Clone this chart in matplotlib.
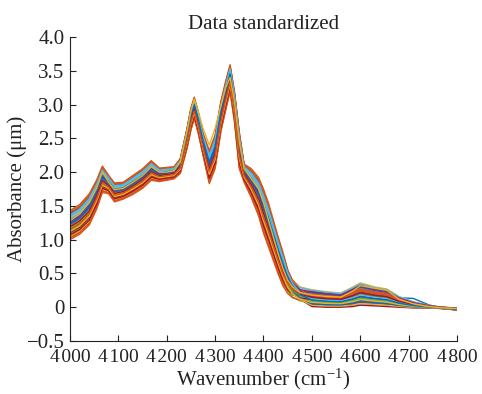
import numpy as np
import matplotlib
matplotlib.use("Agg")
import matplotlib.pyplot as plt

plt.rcParams['font.family'] = ['Liberation Serif', 'DejaVu Serif']
plt.rcParams['mathtext.fontset'] = 'custom'
plt.rcParams['mathtext.rm'] = 'Liberation Serif'
plt.rcParams['mathtext.it'] = 'Liberation Serif'

# wavenumber grid (cm-1) with the lower / upper edge of the band of spectra
wn = [4000, 4020, 4040, 4055, 4067, 4080, 4092, 4110, 4130, 4150, 4168, 4185,
      4200, 4215, 4228, 4242, 4250, 4257, 4265, 4275, 4288, 4300, 4312, 4322,
      4331, 4340, 4350, 4360, 4375, 4390, 4400, 4410, 4420, 4430, 4440, 4450,
      4460, 4475, 4500, 4530, 4560, 4585, 4600, 4630, 4655, 4680, 4710, 4740,
      4770, 4800]
low = [1.00, 1.08, 1.22, 1.45, 1.70, 1.68, 1.56, 1.60, 1.67, 1.76, 1.88, 1.86,
       1.88, 1.90, 1.98, 2.35, 2.62, 2.79, 2.58, 2.25, 1.83, 2.05, 2.60, 2.92,
       3.19, 2.75, 2.05, 1.85, 1.62, 1.35, 1.10, 0.90, 0.70, 0.50, 0.32, 0.18,
       0.10, 0.05, 0.01, 0.00, 0.00, 0.01, 0.03, 0.02, 0.01, 0.00, -0.01, -0.01,
       -0.02, -0.04]
high = [1.43, 1.52, 1.68, 1.88, 2.09, 1.95, 1.84, 1.85, 1.95, 2.05, 2.17, 2.06,
        2.07, 2.08, 2.20, 2.65, 2.95, 3.11, 2.90, 2.58, 2.32, 2.55, 3.05, 3.35,
        3.59, 3.20, 2.60, 2.12, 2.05, 1.92, 1.75, 1.55, 1.30, 1.05, 0.82, 0.60,
        0.45, 0.33, 0.26, 0.23, 0.21, 0.30, 0.36, 0.30, 0.27, 0.16, 0.08, 0.03,
        0.00, -0.01]

# where each sample sits inside the band (left part / right part of the spectrum)
w_left = [0.52, 0.18, 0.77, 0.35, 0.95, 0.61, 0.08, 0.44, 0.83, 0.27, 0.69, 0.13,
          0.56, 0.91, 0.38, 0.00, 0.73, 0.49, 0.21, 0.87, 0.64, 0.31, 1.00, 0.11,
          0.58, 0.42, 0.80, 0.24, 0.67, 0.05, 0.47, 0.89, 0.33, 0.71, 0.16, 0.54,
          0.93, 0.28, 0.62, 0.40, 0.85, 0.45, 0.66, 0.36]
w_right = [0.30, 0.62, 0.15, 0.84, 0.47, 0.05, 0.71, 0.26, 0.93, 0.40, 0.58, 0.19,
           0.77, 0.10, 0.52, 0.35, 1.00, 0.22, 0.66, 0.44, 0.00, 0.81, 0.37, 0.55,
           0.12, 0.69, 0.28, 0.90, 0.49, 0.74, 0.08, 0.60, 0.33, 0.96, 0.42, 0.17,
           0.64, 0.25, 0.86, 0.50, 0.45, 0.55, 0.38, 0.70]

# two odd spectra that stand out of the band
odd_orange = [1.28, 1.38, 1.55, 1.76, 2.00, 1.85, 1.74, 1.76, 1.85, 1.95, 2.08, 2.00,
              2.00, 2.02, 2.15, 2.60, 2.90, 3.08, 2.90, 2.65, 2.40, 2.65, 2.98, 3.25,
              3.40, 3.05, 2.45, 2.05, 1.90, 1.75, 1.55, 1.30, 1.05, 0.80, 0.58, 0.40,
              0.30, 0.22, 0.18, 0.16, 0.15, 0.24, 0.32, 0.28, 0.25, 0.12, 0.05, 0.01,
              -0.01, -0.02]
odd_blue = [1.20, 1.30, 1.48, 1.68, 1.92, 1.80, 1.70, 1.72, 1.80, 1.90, 2.02, 1.96,
            1.98, 2.00, 2.10, 2.50, 2.78, 2.95, 2.75, 2.42, 2.05, 2.28, 2.80, 3.12,
            3.35, 2.98, 2.35, 1.98, 1.85, 1.65, 1.45, 1.22, 1.00, 0.75, 0.55, 0.38,
            0.28, 0.20, 0.15, 0.13, 0.12, 0.20, 0.26, 0.24, 0.22, 0.14, 0.13, 0.04,
            -0.02, -0.04]

colors = ['#0072BD', '#D95319', '#EDB120', '#7E2F8E', '#77AC30', '#4DBEEE', '#A2142F']

wn = np.array(wn)
low = np.array(low)
high = np.array(high)
# blend from the left-part weights to the right-part weights past the big drop
mix = np.clip((wn - 4440) / 60.0, 0, 1)

fig = plt.figure(figsize=(4.82, 3.94), dpi=100)
ax = fig.add_axes([0.1452, 0.1345, 0.8028, 0.7715])

ax.plot(wn, odd_blue, color=colors[0], lw=1.0)
for i in range(len(w_left)):
    w = (1 - mix) * w_left[i] + mix * w_right[i]
    ax.plot(wn, low + w * (high - low), color=colors[i % 7], lw=1.0)
ax.plot(wn, odd_orange, color=colors[2], lw=1.0)

ax.set_xlim(4000, 4800)
ax.set_ylim(-0.5, 4.0)
xt = [4000, 4100, 4200, 4300, 4400, 4500, 4600, 4700, 4800]
ax.set_xticks(xt)
ax.set_xticklabels(['4\u200a' + str(v)[1:] for v in xt])
yt = [-0.5, 0, 0.5, 1.0, 1.5, 2.0, 2.5, 3.0, 3.5, 4.0]
ax.set_yticks(yt)
ax.set_yticklabels(['\u22120.5', '0', '0.5', '1.0', '1.5', '2.0', '2.5', '3.0', '3.5', '4.0'])
ax.tick_params(direction='in', length=4, colors='#222222')
ax.tick_params(axis='x', labelsize=14, pad=6)
ax.tick_params(axis='y', labelsize=15, pad=4)
for s in ['top', 'right']:
    ax.spines[s].set_visible(False)
for s in ['left', 'bottom']:
    ax.spines[s].set_color('#222222')

ax.set_xlabel('Wavenumber (cm$^{-1}$)', fontsize=15, labelpad=0, color='#222222')
ax.set_ylabel('Absorbance (\u03bcm)', fontsize=15, labelpad=0, color='#222222')
ax.set_title('Data standardized', fontsize=15, pad=6, color='#222222')

fig.savefig('out.png', dpi=100)
